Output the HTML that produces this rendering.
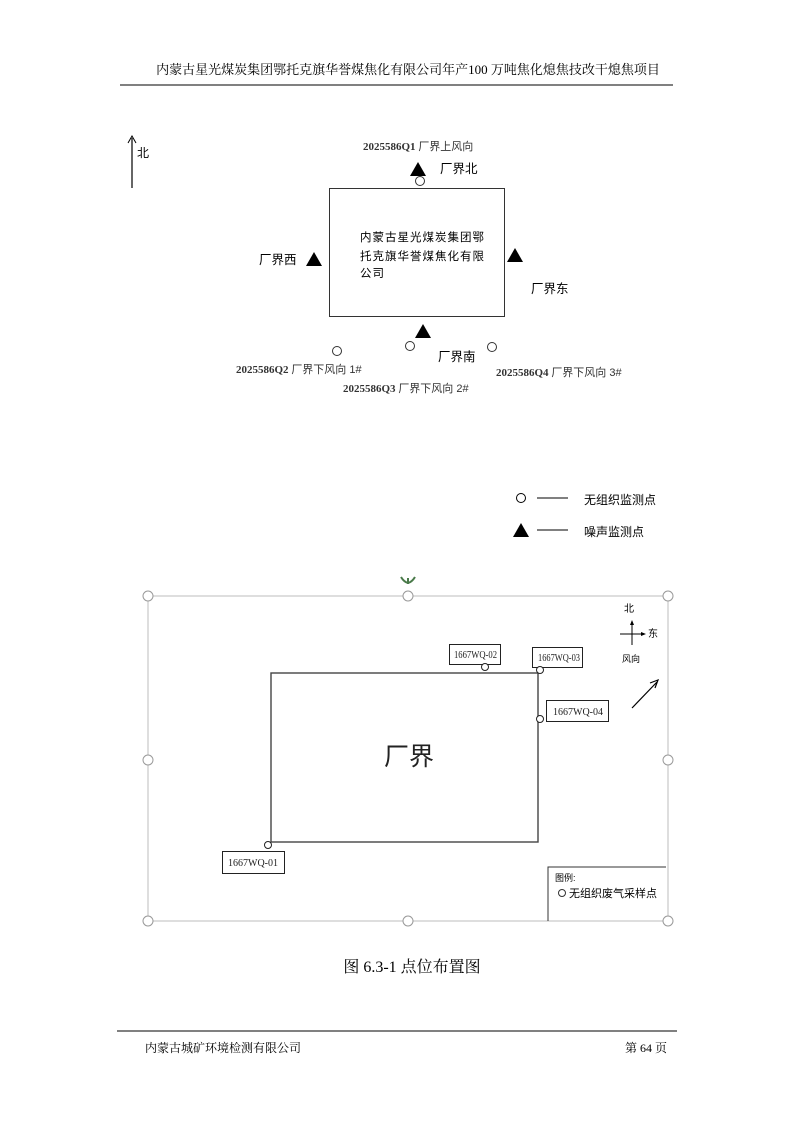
<!DOCTYPE html>
<html><head><meta charset="utf-8"><style>
body{margin:0;background:#fff;}
svg{display:block}
.s{font-family:"Liberation Serif","Noto Serif CJK SC",serif;}
.a{font-family:"Liberation Sans","Noto Sans CJK SC",sans-serif;}
</style></head><body>
<svg width="794" height="1123" viewBox="0 0 794 1123" xmlns="http://www.w3.org/2000/svg">
<text x="408" y="74" class="s" font-size="13" text-anchor="middle">内蒙古星光煤炭集团鄂托克旗华誉煤焦化有限公司年产100 万吨焦化熄焦技改干熄焦项目</text>
<line x1="120" y1="85" x2="673" y2="85" stroke="#000" stroke-width="1"/>

<line x1="132" y1="188" x2="132" y2="138" stroke="#000" stroke-width="1.2"/>
<path d="M128,143 L132,136 L136,143" fill="none" stroke="#000" stroke-width="1"/>
<text x="137" y="157" class="a" font-size="12">北</text>
<rect x="329.5" y="188.5" width="175" height="128" fill="none" stroke="#333" stroke-width="1"/>
<text x="360" y="241" class="a" font-size="11.5" letter-spacing="1">内蒙古星光煤炭集团鄂</text>
<text x="360" y="260" class="a" font-size="11.5" letter-spacing="1">托克旗华誉煤焦化有限</text>
<text x="360" y="277" class="a" font-size="11.5" letter-spacing="1">公司</text>
<text x="363" y="150" class="s" font-size="11" font-weight="bold" fill="#333">2025586Q1 <tspan class="a" font-weight="normal">厂界上风向</tspan></text>
<polygon points="418,162 426,176 410,176" fill="#000"/>
<circle cx="420" cy="181" r="4.5" fill="#fff" stroke="#333"/>
<text x="440" y="173" class="a" font-size="12.5">厂界北</text>
<text x="259" y="264" class="a" font-size="12.5">厂界西</text>
<polygon points="314,252 322,266 306,266" fill="#000"/>
<polygon points="515,248 523,262 507,262" fill="#000"/>
<text x="531" y="293" class="a" font-size="12.5">厂界东</text>
<polygon points="423,324 431,338 415,338" fill="#000"/>
<circle cx="337" cy="351" r="4.5" fill="#fff" stroke="#333"/>
<circle cx="410" cy="346" r="4.5" fill="#fff" stroke="#333"/>
<circle cx="492" cy="347" r="4.5" fill="#fff" stroke="#333"/>
<text x="438" y="361" class="a" font-size="12.5">厂界南</text>
<text x="236" y="373" class="s" font-size="11" font-weight="bold" fill="#333">2025586Q2 <tspan class="a" font-weight="normal">厂界下风向 1#</tspan></text>
<text x="343" y="392" class="s" font-size="11" font-weight="bold" fill="#333">2025586Q3 <tspan class="a" font-weight="normal">厂界下风向 2#</tspan></text>
<text x="496" y="376" class="s" font-size="11" font-weight="bold" fill="#333">2025586Q4 <tspan class="a" font-weight="normal">厂界下风向 3#</tspan></text>

<circle cx="521" cy="498" r="4.5" fill="#fff" stroke="#000"/>
<line x1="537" y1="498" x2="568" y2="498" stroke="#000"/>
<text x="584" y="504" class="a" font-size="12">无组织监测点</text>
<polygon points="521,523 529,537 513,537" fill="#000"/>
<line x1="537" y1="530" x2="568" y2="530" stroke="#000"/>
<text x="584" y="536" class="a" font-size="12">噪声监测点</text>

<path d="M408,584 L408,578 M401,577 Q404,582 408,583 Q412,582 415,577" stroke="#4a7a4a" stroke-width="2" fill="none"/>
<rect x="148" y="596" width="520" height="325" fill="none" stroke="#c8c8c8" stroke-width="1.2"/>
<g fill="#fff" stroke="#999" stroke-width="1">
<circle cx="148" cy="596" r="5"/><circle cx="408" cy="596" r="5"/><circle cx="668" cy="596" r="5"/>
<circle cx="148" cy="760" r="5"/><circle cx="668" cy="760" r="5"/>
<circle cx="148" cy="921" r="5"/><circle cx="408" cy="921" r="5"/><circle cx="668" cy="921" r="5"/>
</g>
<rect x="271" y="673" width="267" height="169" fill="none" stroke="#444" stroke-width="1.4"/>
<text x="384" y="765" class="a" font-size="25" fill="#222">厂界</text>
<g class="s" font-size="10" fill="#222">
<rect x="449.5" y="644.5" width="51" height="20" fill="#fff" stroke="#222"/><text x="454" y="658" textLength="43" lengthAdjust="spacingAndGlyphs">1667WQ-02</text>
<rect x="532.5" y="647.5" width="50" height="20" fill="#fff" stroke="#222"/><text x="538" y="661" textLength="42" lengthAdjust="spacingAndGlyphs">1667WQ-03</text>
<rect x="546.5" y="700.5" width="62" height="21" fill="#fff" stroke="#222"/><text x="553" y="715">1667WQ-04</text>
<rect x="222.5" y="851.5" width="62" height="22" fill="#fff" stroke="#222"/><text x="228" y="866">1667WQ-01</text>
</g>
<g fill="#fff" stroke="#222" stroke-width="1">
<circle cx="485" cy="667" r="3.5"/><circle cx="540" cy="670" r="3.5"/><circle cx="540" cy="719" r="3.5"/><circle cx="268" cy="845" r="3.5"/>
</g>
<text x="624" y="612" class="a" font-size="10">北</text>
<line x1="632" y1="622" x2="632" y2="645" stroke="#000"/>
<line x1="620" y1="634" x2="643" y2="634" stroke="#000"/>
<polygon points="632,620 630,625 634,625" fill="#000"/>
<polygon points="646,634 641,632 641,636" fill="#000"/>
<text x="648" y="637" class="a" font-size="10">东</text>
<text x="622" y="662" class="a" font-size="9">风向</text>
<line x1="632" y1="708" x2="657" y2="682" stroke="#000" stroke-width="1.2"/>
<path d="M650,683 L658,680 L655,688" fill="none" stroke="#000" stroke-width="1.2"/>
<polyline points="548,921 548,867 666,867" fill="none" stroke="#333" stroke-width="1"/>
<text x="555" y="881" class="a" font-size="9">图例:</text>
<circle cx="562" cy="893" r="3.5" fill="#fff" stroke="#333"/>
<text x="569" y="897" class="a" font-size="11">无组织废气采样点</text>

<text x="412" y="972" class="s" font-size="16" text-anchor="middle">图 6.3-1 点位布置图</text>

<line x1="117" y1="1031" x2="677" y2="1031" stroke="#000"/>
<text x="145" y="1052" class="s" font-size="12">内蒙古城矿环境检测有限公司</text>
<text x="625" y="1052" class="s" font-size="12">第 64 页</text>
</svg>
</body></html>
